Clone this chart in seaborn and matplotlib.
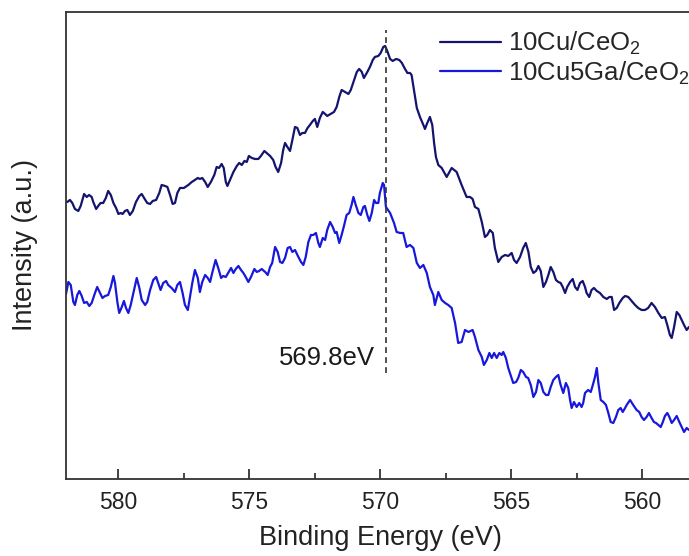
import numpy as np
import pandas as pd
import seaborn as sns
import matplotlib.pyplot as plt
from matplotlib.ticker import MultipleLocator

sns.set_theme(style="ticks")
plt.rcParams['font.family'] = ['Liberation Sans', 'DejaVu Sans']
plt.rcParams['mathtext.fontset'] = 'custom'
plt.rcParams['mathtext.rm'] = 'Liberation Sans'
plt.rcParams['mathtext.it'] = 'Liberation Sans:italic'

# Cu LMM Auger region (intensity in arbitrary units)
be_cu = [
    581.95, 581.85, 581.76, 581.66, 581.53, 581.44, 581.31, 581.21, 581.12, 581.02,
    580.96, 580.85, 580.77, 580.68, 580.58, 580.48, 580.39, 580.29, 580.19, 580.09,
    580.00, 579.91, 579.84, 579.75, 579.66, 579.56, 579.45, 579.33, 579.20, 579.11,
    579.02, 578.90, 578.79, 578.69, 578.56, 578.44, 578.35, 578.22, 578.13, 578.03,
    577.93, 577.84, 577.75, 577.65, 577.50, 577.33, 577.20, 577.08, 576.97, 576.89,
    576.80, 576.69, 576.59, 576.47, 576.34, 576.25, 576.16, 576.06, 575.98, 575.90,
    575.84, 575.74, 575.61, 575.48, 575.39, 575.29, 575.19, 575.10, 575.02, 574.91,
    574.79, 574.66, 574.56, 574.43, 574.34, 574.21, 574.09, 574.00, 573.90, 573.79,
    573.71, 573.64, 573.55, 573.45, 573.36, 573.26, 573.17, 573.07, 572.98, 572.88,
    572.78, 572.69, 572.58, 572.50, 572.41, 572.31, 572.20, 572.11, 572.03, 571.90,
    571.77, 571.67, 571.57, 571.48, 571.35, 571.22, 571.13, 571.03, 570.90, 570.81,
    570.71, 570.63, 570.52, 570.40, 570.29, 570.21, 570.08, 569.99, 569.89, 569.82,
    569.74, 569.63, 569.53, 569.40, 569.28, 569.18, 569.06, 568.97, 568.87, 568.81,
    568.72, 568.61, 568.49, 568.36, 568.30, 568.21, 568.11, 568.02, 567.95, 567.88,
    567.79, 567.66, 567.47, 567.28, 567.09, 566.90, 566.71, 566.58, 566.48, 566.39,
    566.26, 566.13, 566.01, 565.92, 565.82, 565.71, 565.63, 565.50, 565.37, 565.24,
    565.12, 564.99, 564.90, 564.80, 564.67, 564.55, 564.45, 564.35, 564.26, 564.16,
    564.06, 563.97, 563.88, 563.78, 563.68, 563.59, 563.50, 563.40, 563.30, 563.21,
    563.12, 563.04, 562.95, 562.87, 562.76, 562.66, 562.57, 562.48, 562.38, 562.28,
    562.19, 562.13, 562.03, 561.94, 561.85, 561.74, 561.62, 561.49, 561.36, 561.26,
    561.17, 561.08, 560.98, 560.88, 560.75, 560.66, 560.54, 560.41, 560.28, 560.16,
    560.03, 559.90, 559.78, 559.65, 559.52, 559.39, 559.26, 559.14, 559.05, 558.95,
    558.88, 558.79, 558.69, 558.59, 558.50, 558.41, 558.31, 558.22,
]
int_cu = [
    308, 310, 307, 301, 299, 304, 316, 313, 315, 313,
    308, 301, 304, 307, 307, 312, 319, 315, 307, 302,
    296, 297, 296, 299, 300, 295, 299, 308, 314, 316,
    312, 307, 306, 309, 310, 317, 325, 324, 323, 315,
    306, 307, 317, 322, 322, 325, 328, 330, 332, 331,
    332, 328, 323, 328, 335, 343, 342, 346, 342, 328,
    324, 330, 338, 344, 347, 345, 349, 348, 354, 352,
    351, 351, 354, 359, 357, 354, 350, 343, 338, 347,
    360, 367, 363, 359, 370, 383, 382, 375, 377, 377,
    382, 385, 389, 391, 383, 392, 398, 396, 394, 396,
    398, 403, 413, 420, 418, 416, 420, 428, 438, 441,
    438, 432, 437, 443, 450, 453, 454, 457, 463, 464,
    459, 451, 449, 451, 450, 447, 441, 437, 437, 435,
    420, 402, 393, 385, 381, 387, 393, 385, 367, 353,
    345, 342, 333, 342, 338, 325, 313, 313, 311, 303,
    301, 288, 273, 275, 280, 277, 262, 248, 253, 255,
    254, 257, 250, 247, 253, 262, 267, 258, 243, 237,
    239, 244, 239, 223, 228, 235, 243, 238, 230, 228,
    227, 223, 217, 223, 228, 231, 223, 220, 227, 229,
    223, 217, 213, 220, 222, 219, 217, 213, 211, 213,
    213, 200, 202, 207, 212, 214, 213, 209, 205, 202,
    200, 200, 202, 207, 203, 197, 192, 193, 185, 175,
    172, 183, 198, 195, 190, 185, 180, 183,
]

be_cuga = [
    582.00, 581.91, 581.82, 581.72, 581.66, 581.57, 581.49, 581.40, 581.31, 581.21,
    581.11, 581.02, 580.92, 580.81, 580.70, 580.61, 580.51, 580.39, 580.29, 580.19,
    580.13, 580.04, 579.97, 579.87, 579.79, 579.71, 579.62, 579.53, 579.43, 579.30,
    579.20, 579.11, 578.98, 578.90, 578.79, 578.67, 578.56, 578.48, 578.39, 578.29,
    578.18, 578.10, 577.97, 577.84, 577.75, 577.65, 577.55, 577.46, 577.35, 577.27,
    577.18, 577.08, 576.97, 576.89, 576.80, 576.69, 576.59, 576.50, 576.42, 576.29,
    576.19, 576.08, 576.00, 575.90, 575.81, 575.70, 575.61, 575.52, 575.42, 575.32,
    575.23, 575.14, 575.04, 574.94, 574.81, 574.72, 574.63, 574.53, 574.40, 574.30,
    574.21, 574.13, 574.02, 573.92, 573.83, 573.74, 573.64, 573.54, 573.45, 573.36,
    573.26, 573.13, 573.03, 572.94, 572.85, 572.75, 572.65, 572.56, 572.46, 572.37,
    572.31, 572.20, 572.11, 572.03, 571.92, 571.82, 571.73, 571.67, 571.57, 571.48,
    571.39, 571.29, 571.19, 571.10, 571.03, 570.94, 570.84, 570.75, 570.65, 570.59,
    570.50, 570.42, 570.33, 570.24, 570.17, 570.08, 570.02, 569.91, 569.86, 569.79,
    569.63, 569.48, 569.38, 569.25, 569.13, 569.00, 568.87, 568.74, 568.61, 568.49,
    568.36, 568.23, 568.11, 567.98, 567.92, 567.79, 567.66, 567.53, 567.41, 567.28,
    567.15, 567.03, 566.90, 566.77, 566.64, 566.48, 566.39, 566.26, 566.13, 566.05,
    565.94, 565.84, 565.75, 565.66, 565.56, 565.46, 565.37, 565.31, 565.21, 565.12,
    565.03, 564.93, 564.82, 564.74, 564.64, 564.55, 564.44, 564.36, 564.26, 564.16,
    564.06, 563.97, 563.88, 563.78, 563.68, 563.59, 563.50, 563.40, 563.30, 563.21,
    563.12, 563.02, 562.92, 562.83, 562.76, 562.70, 562.61, 562.51, 562.41, 562.32,
    562.26, 562.19, 562.07, 561.97, 561.87, 561.81, 561.74, 561.68, 561.59, 561.49,
    561.39, 561.30, 561.21, 561.11, 561.01, 560.92, 560.83, 560.75, 560.66, 560.60,
    560.47, 560.35, 560.22, 560.12, 560.03, 559.94, 559.84, 559.75, 559.65, 559.56,
    559.48, 559.39, 559.30, 559.22, 559.14, 559.05, 558.97, 558.88, 558.79, 558.69,
    558.59, 558.50, 558.41, 558.31, 558.22,
]
int_cuga = [
    216, 228, 225, 208, 205, 215, 219, 214, 207, 208,
    204, 207, 215, 223, 217, 212, 214, 215, 223, 234,
    227, 208, 197, 203, 209, 202, 197, 205, 217, 232,
    222, 210, 205, 208, 220, 230, 233, 227, 220, 227,
    229, 225, 222, 218, 225, 228, 217, 205, 200, 213,
    227, 240, 232, 218, 228, 235, 232, 228, 237, 250,
    242, 232, 234, 233, 237, 242, 237, 241, 244, 240,
    237, 233, 228, 233, 241, 238, 239, 241, 238, 235,
    243, 247, 263, 258, 248, 247, 252, 262, 263, 258,
    260, 253, 248, 245, 253, 268, 275, 275, 277, 267,
    263, 272, 270, 280, 288, 283, 277, 278, 267, 275,
    284, 295, 297, 305, 313, 305, 297, 295, 303, 304,
    295, 289, 297, 310, 307, 307, 317, 327, 325, 303,
    297, 287, 278, 277, 277, 263, 265, 262, 247, 242,
    245, 237, 223, 215, 205, 218, 210, 207, 205, 202,
    187, 167, 168, 180, 178, 180, 173, 160, 153, 145,
    150, 157, 152, 157, 152, 157, 155, 158, 152, 142,
    135, 127, 128, 132, 140, 138, 133, 132, 125, 113,
    118, 130, 127, 118, 115, 115, 123, 130, 133, 135,
    125, 117, 127, 122, 110, 102, 108, 103, 107, 103,
    107, 117, 120, 118, 127, 133, 142, 127, 110, 108,
    105, 97, 88, 87, 93, 100, 102, 98, 102, 105,
    110, 105, 100, 98, 93, 90, 93, 97, 92, 88,
    87, 85, 83, 88, 94, 97, 93, 87, 90, 94,
    88, 83, 78, 82, 80,
]

labels = ["10Cu/CeO$_2$", "10Cu5Ga/CeO$_2$"]
colors = ["#14146e", "#1818dc"]
peak_be = 569.8
peak_label = "569.8eV"

df = pd.concat([
    pd.DataFrame({"be": be_cu, "intensity": int_cu, "sample": labels[0]}),
    pd.DataFrame({"be": be_cuga, "intensity": int_cuga, "sample": labels[1]}),
])

fig = plt.figure(figsize=(6.89, 5.56), dpi=100)
# right spine sits just past the image edge, like the cropped original
ax = fig.add_axes([0.0958, 0.1385, 0.9126, 0.8400])

sns.lineplot(data=df, x="be", y="intensity", hue="sample", palette=colors,
             estimator=None, linewidth=1.6, ax=ax)

# dashed marker at the peak position
ax.vlines(peak_be, 137, 480, colors="#333333", linestyles=(0, (3.5, 2.5)), linewidth=1.2)
ax.text(570.21, 152, peak_label, ha="right", va="center", fontsize=18.5, color="#1a1a1a")

ax.set_xlim(582, 558)
ax.set_ylim(31, 498)
ax.xaxis.set_major_locator(MultipleLocator(5))
ax.xaxis.set_minor_locator(MultipleLocator(2.5))
ax.tick_params(axis="x", which="major", direction="in", length=7, width=1.2,
               labelsize=16.5, pad=8.5, colors="#222222")
ax.tick_params(axis="x", which="minor", direction="in", length=4, width=1.2)
ax.set_yticks([])
for side in ["left", "bottom", "top", "right"]:
    ax.spines[side].set_linewidth(1.3)
    ax.spines[side].set_color("#333333")

ax.set_xlabel("Binding Energy (eV)", fontsize=19.5, labelpad=8, color="#222222")
ax.set_ylabel("Intensity (a.u.)", fontsize=19.5, labelpad=20, color="#222222")

ax.legend(title=None, frameon=False, loc="upper left", bbox_to_anchor=(0.595, 0.962),
          borderpad=0, borderaxespad=0, fontsize=18.5, handlelength=2.35,
          handletextpad=0.28, labelspacing=0.1)
for line in ax.get_legend().get_lines():
    line.set_linewidth(1.6)

fig.savefig("out.png", dpi=100, facecolor="white")
